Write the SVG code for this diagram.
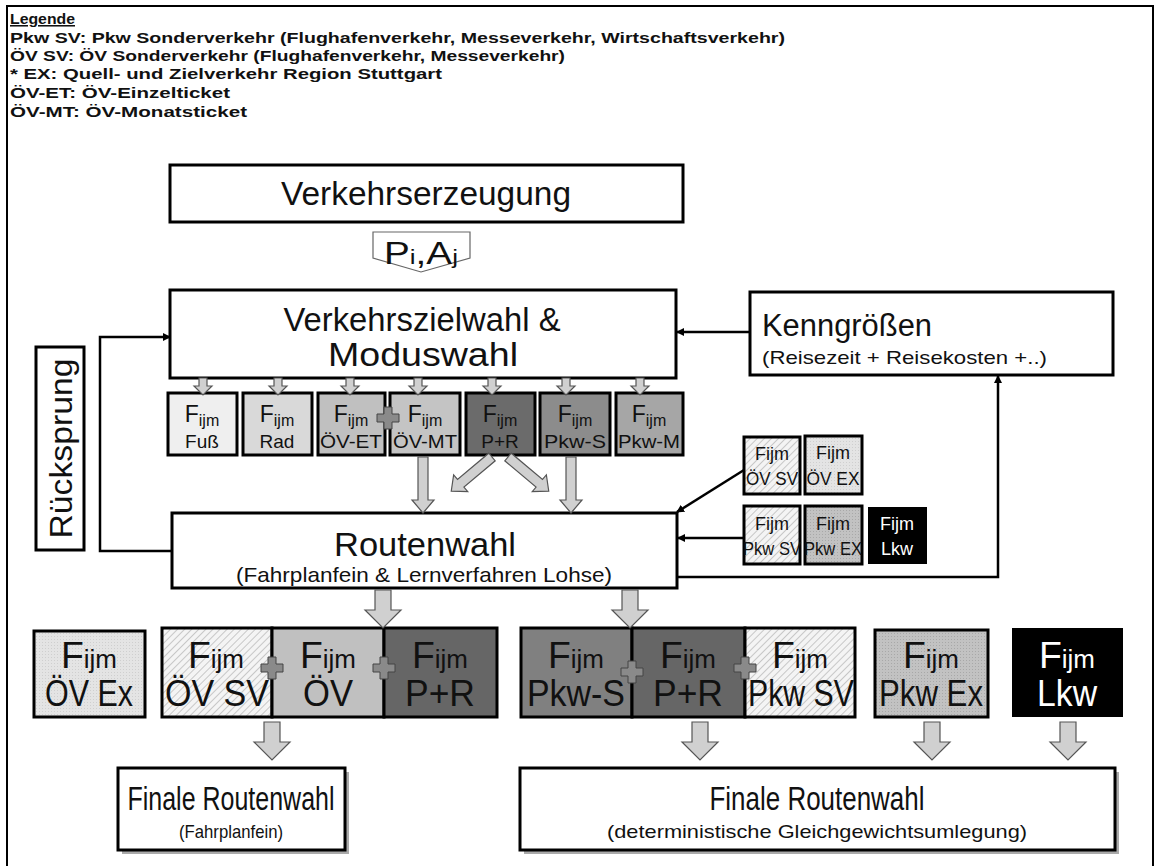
<svg xmlns="http://www.w3.org/2000/svg" width="1161" height="866" viewBox="0 0 1161 866">
<style>
.t{font-family:"Liberation Sans",Arial,sans-serif;fill:#111}
.w{fill:#fff}
.leg{font-family:"Liberation Sans",Arial,sans-serif;font-weight:bold;font-size:15.5px;fill:#111}
.box{fill:#fff;stroke:#000;stroke-width:3}
.sb{stroke:#000;stroke-width:3}
.ba{fill:#d0d0d0;stroke:#555;stroke-width:1.2}
.con{fill:none;stroke:#000;stroke-width:2.5}
.plus{fill:#8a8a8a;stroke:#444;stroke-width:1}
.mF{font-size:23px}
.mN{font-size:19px}
.rF{font-size:36px}
.rN{font-size:36px}
</style>
<defs>
<pattern id="hatch" width="5" height="5" patternUnits="userSpaceOnUse" patternTransform="rotate(45)">
<rect width="5" height="5" fill="#f4f4f4"/><line x1="0" y1="0" x2="0" y2="5" stroke="#9a9a9a" stroke-width="1"/>
</pattern>
<pattern id="dots1" width="3" height="3" patternUnits="userSpaceOnUse">
<rect width="3" height="3" fill="#e4e4e4"/><rect width="1" height="1" fill="#cfcfcf"/>
</pattern>
<pattern id="dots2" width="3" height="3" patternUnits="userSpaceOnUse">
<rect width="3" height="3" fill="#c2c2c2"/><rect width="1" height="1" fill="#a8a8a8"/>
</pattern>
<marker id="ah" markerWidth="8" markerHeight="8" refX="7" refY="4" orient="auto" markerUnits="userSpaceOnUse">
<path d="M0,0 L8,4 L0,8 Z" fill="#000"/>
</marker>
<path id="a16" d="M-4,0 h8 v8 h5 l-9,9 l-9,-9 h5 z"/>
<path id="a56" d="M-5,0 h10 v43 h6 l-11,13 l-11,-13 h6 z"/>
<path id="a38" d="M-8,0 h16 v20 h10 l-18,18 l-18,-18 h10 z"/>
<path id="plus" d="M-4,-11 h8 v7 h7 v8 h-7 v7 h-8 v-7 h-7 v-8 h7 z"/>
</defs>

<rect x="7" y="6" width="1146" height="866" fill="none" stroke="#000" stroke-width="2"/>

<g id="legend">
<text class="leg" x="10" y="24" textLength="65" lengthAdjust="spacingAndGlyphs" text-decoration="underline">Legende</text>
<text class="leg" x="10" y="43" textLength="775" lengthAdjust="spacingAndGlyphs">Pkw SV: Pkw Sonderverkehr (Flughafenverkehr, Messeverkehr, Wirtschaftsverkehr)</text>
<text class="leg" x="10" y="61" textLength="555" lengthAdjust="spacingAndGlyphs">ÖV  SV: ÖV  Sonderverkehr (Flughafenverkehr, Messeverkehr)</text>
<text class="leg" x="10" y="79" textLength="432" lengthAdjust="spacingAndGlyphs">* EX: Quell- und Zielverkehr Region Stuttgart</text>
<text class="leg" x="10" y="98" textLength="220" lengthAdjust="spacingAndGlyphs">ÖV-ET: ÖV-Einzelticket</text>
<text class="leg" x="10" y="117" textLength="237" lengthAdjust="spacingAndGlyphs">ÖV-MT: ÖV-Monatsticket</text>
</g>

<g id="verkehrserzeugung">
<rect class="box" x="170" y="165" width="513" height="57"/>
<text class="t" x="426" y="205" font-size="34" text-anchor="middle" textLength="290" lengthAdjust="spacingAndGlyphs">Verkehrserzeugung</text>
</g>

<g id="piaj">
<path d="M373,232 H470 V258 L421,272 L373,258 Z" fill="#fff" stroke="#666" stroke-width="1.2"/>
<text class="t" x="421" y="264" font-size="31" text-anchor="middle" textLength="74" lengthAdjust="spacingAndGlyphs">P<tspan font-size="21">i</tspan>,A<tspan font-size="21">j</tspan></text>
</g>

<g id="verkehrszielwahl">
<rect class="box" x="170" y="290" width="506" height="88"/>
<text class="t" x="422" y="331" font-size="33" text-anchor="middle" textLength="277" lengthAdjust="spacingAndGlyphs">Verkehrszielwahl &amp;</text>
<text class="t" x="423" y="366" font-size="33" text-anchor="middle" textLength="190" lengthAdjust="spacingAndGlyphs">Moduswahl</text>
</g>

<g id="kenngroessen">
<rect class="box" x="750" y="292" width="363" height="83"/>
<text class="t" x="762" y="336" font-size="31" textLength="170" lengthAdjust="spacingAndGlyphs">Kenngrößen</text>
<text class="t" x="762" y="364" font-size="19" textLength="285" lengthAdjust="spacingAndGlyphs">(Reisezeit + Reisekosten +..)</text>
</g>

<g id="ruecksprung">
<rect class="box" x="36" y="347" width="48" height="203"/>
<text class="t" transform="translate(72,448.5) rotate(-90)" font-size="32" text-anchor="middle" textLength="180" lengthAdjust="spacingAndGlyphs">Rücksprung</text>
</g>

<g id="mode-boxes">
<g id="m-fuss"><rect class="sb" x="168" y="393" width="69" height="62" fill="#efefef"/>
<text class="t mF" x="202" y="422" text-anchor="middle">F<tspan font-size="16" dy="4">ijm</tspan></text>
<text class="t mN" x="202" y="448" text-anchor="middle">Fuß</text></g>
<g id="m-rad"><rect class="sb" x="243" y="393" width="69" height="62" fill="#d9d9d9"/>
<text class="t mF" x="277" y="422" text-anchor="middle">F<tspan font-size="16" dy="4">ijm</tspan></text>
<text class="t mN" x="277" y="448" text-anchor="middle">Rad</text></g>
<g id="m-oevet"><rect class="sb" x="318" y="393" width="67" height="62" fill="#c0c0c0"/>
<text class="t mF" x="351" y="422" text-anchor="middle">F<tspan font-size="16" dy="4">ijm</tspan></text>
<text class="t mN" x="351" y="448" text-anchor="middle" textLength="62" lengthAdjust="spacingAndGlyphs">ÖV-ET</text></g>
<g id="m-oevmt"><rect class="sb" x="390" y="393" width="70" height="62" fill="#c4c4c4"/>
<text class="t mF" x="425" y="422" text-anchor="middle">F<tspan font-size="16" dy="4">ijm</tspan></text>
<text class="t mN" x="425" y="448" text-anchor="middle" textLength="64" lengthAdjust="spacingAndGlyphs">ÖV-MT</text></g>
<g id="m-pr"><rect class="sb" x="466" y="393" width="69" height="62" fill="#6b6b6b"/>
<text class="t mF" x="500" y="422" text-anchor="middle">F<tspan font-size="16" dy="4">ijm</tspan></text>
<text class="t mN" x="500" y="448" text-anchor="middle">P+R</text></g>
<g id="m-pkws"><rect class="sb" x="540" y="393" width="70" height="62" fill="#8c8c8c"/>
<text class="t mF" x="575" y="422" text-anchor="middle">F<tspan font-size="16" dy="4">ijm</tspan></text>
<text class="t mN" x="575" y="448" text-anchor="middle" textLength="62" lengthAdjust="spacingAndGlyphs">Pkw-S</text></g>
<g id="m-pkwm"><rect class="sb" x="616" y="393" width="67" height="62" fill="#a6a6a6"/>
<text class="t mF" x="649" y="422" text-anchor="middle">F<tspan font-size="16" dy="4">ijm</tspan></text>
<text class="t mN" x="649" y="448" text-anchor="middle" textLength="62" lengthAdjust="spacingAndGlyphs">Pkw-M</text></g>
<use href="#plus" class="plus" transform="translate(388,418)"/>
</g>

<g id="routenwahl">
<rect class="box" x="172" y="513" width="505" height="75"/>
<text class="t" x="425" y="556" font-size="34" text-anchor="middle" textLength="182" lengthAdjust="spacingAndGlyphs">Routenwahl</text>
<text class="t" x="424" y="582" font-size="21" text-anchor="middle" textLength="376" lengthAdjust="spacingAndGlyphs">(Fahrplanfein &amp; Lernverfahren Lohse)</text>
</g>

<g id="side-boxes">
<g id="s-oevsv"><rect class="sb" x="744" y="437" width="56" height="57" fill="url(#hatch)"/>
<text class="t" x="772" y="460" font-size="18" text-anchor="middle">Fijm</text>
<text class="t" x="772" y="485" font-size="18" text-anchor="middle" textLength="52" lengthAdjust="spacingAndGlyphs">ÖV SV</text></g>
<g id="s-oevex"><rect class="sb" x="805" y="436" width="57" height="58" fill="url(#dots1)"/>
<text class="t" x="833" y="459" font-size="18" text-anchor="middle">Fijm</text>
<text class="t" x="833" y="485" font-size="18" text-anchor="middle" textLength="53" lengthAdjust="spacingAndGlyphs">ÖV EX</text></g>
<g id="s-pkwsv"><rect class="sb" x="744" y="506" width="56" height="58" fill="url(#hatch)"/>
<text class="t" x="772" y="530" font-size="18" text-anchor="middle">Fijm</text>
<text class="t" x="772" y="555" font-size="18" text-anchor="middle" textLength="58" lengthAdjust="spacingAndGlyphs">Pkw SV</text></g>
<g id="s-pkwex"><rect class="sb" x="805" y="506" width="57" height="58" fill="url(#dots2)"/>
<text class="t" x="833" y="530" font-size="18" text-anchor="middle">Fijm</text>
<text class="t" x="833" y="555" font-size="18" text-anchor="middle" textLength="58" lengthAdjust="spacingAndGlyphs">Pkw EX</text></g>
<g id="s-lkw"><rect x="868" y="507" width="59" height="57" fill="#000"/>
<text class="t w" x="897" y="530" font-size="18" text-anchor="middle">Fijm</text>
<text class="t w" x="897" y="555" font-size="18" text-anchor="middle">Lkw</text></g>
</g>

<g id="result-boxes">
<g id="r-oevex"><rect class="sb" x="34" y="631" width="111" height="86" fill="url(#dots1)"/>
<text class="t rF" x="89" y="668" text-anchor="middle" textLength="56" lengthAdjust="spacingAndGlyphs">F<tspan font-size="25">ijm</tspan></text>
<text class="t rN" x="89" y="706" text-anchor="middle" textLength="88" lengthAdjust="spacingAndGlyphs">ÖV Ex</text></g>
<g id="r-oevsv"><rect class="sb" x="162" y="628" width="110" height="89" fill="url(#hatch)"/>
<text class="t rF" x="216" y="668" text-anchor="middle" textLength="56" lengthAdjust="spacingAndGlyphs">F<tspan font-size="25">ijm</tspan></text>
<text class="t rN" x="217" y="706" text-anchor="middle" textLength="104" lengthAdjust="spacingAndGlyphs">ÖV SV</text></g>
<g id="r-oev"><rect class="sb" x="272" y="628" width="112" height="89" fill="#c0c0c0"/>
<text class="t rF" x="328" y="668" text-anchor="middle" textLength="56" lengthAdjust="spacingAndGlyphs">F<tspan font-size="25">ijm</tspan></text>
<text class="t rN" x="328" y="706" text-anchor="middle" textLength="50" lengthAdjust="spacingAndGlyphs">ÖV</text></g>
<g id="r-pr1"><rect class="sb" x="384" y="628" width="113" height="89" fill="#666"/>
<text class="t rF" x="440" y="668" text-anchor="middle" textLength="56" lengthAdjust="spacingAndGlyphs">F<tspan font-size="25">ijm</tspan></text>
<text class="t rN" x="440" y="706" text-anchor="middle" textLength="70" lengthAdjust="spacingAndGlyphs">P+R</text></g>
<g id="r-pkws"><rect class="sb" x="521" y="628" width="111" height="89" fill="#808080"/>
<text class="t rF" x="576" y="668" text-anchor="middle" textLength="56" lengthAdjust="spacingAndGlyphs">F<tspan font-size="25">ijm</tspan></text>
<text class="t rN" x="576" y="706" text-anchor="middle" textLength="98" lengthAdjust="spacingAndGlyphs">Pkw-S</text></g>
<g id="r-pr2"><rect class="sb" x="632" y="628" width="113" height="89" fill="#666"/>
<text class="t rF" x="688" y="668" text-anchor="middle" textLength="56" lengthAdjust="spacingAndGlyphs">F<tspan font-size="25">ijm</tspan></text>
<text class="t rN" x="688" y="706" text-anchor="middle" textLength="70" lengthAdjust="spacingAndGlyphs">P+R</text></g>
<g id="r-pkwsv"><rect class="sb" x="745" y="628" width="110" height="89" fill="url(#hatch)"/>
<text class="t rF" x="800" y="668" text-anchor="middle" textLength="56" lengthAdjust="spacingAndGlyphs">F<tspan font-size="25">ijm</tspan></text>
<text class="t rN" x="801" y="706" text-anchor="middle" textLength="106" lengthAdjust="spacingAndGlyphs">Pkw SV</text></g>
<g id="r-pkwex"><rect class="sb" x="875" y="630" width="113" height="87" fill="url(#dots2)"/>
<text class="t rF" x="931" y="668" text-anchor="middle" textLength="56" lengthAdjust="spacingAndGlyphs">F<tspan font-size="25">ijm</tspan></text>
<text class="t rN" x="931" y="706" text-anchor="middle" textLength="104" lengthAdjust="spacingAndGlyphs">Pkw Ex</text></g>
<g id="r-lkw"><rect x="1012" y="628" width="111" height="89" fill="#000"/>
<text class="t rF w" x="1067" y="668" text-anchor="middle" textLength="56" lengthAdjust="spacingAndGlyphs">F<tspan font-size="25">ijm</tspan></text>
<text class="t rN w" x="1067" y="706" text-anchor="middle" textLength="60" lengthAdjust="spacingAndGlyphs">Lkw</text></g>
<use href="#plus" class="plus" transform="translate(272,668)"/>
<use href="#plus" class="plus" transform="translate(384,668)"/>
<use href="#plus" class="plus" transform="translate(632,672)"/>
<use href="#plus" class="plus" transform="translate(745,668)"/>
</g>

<g id="final-left">
<rect x="122" y="772" width="227" height="82" fill="#aaa"/>
<rect class="box" x="118" y="768" width="227" height="82"/>
<text class="t" x="231" y="810" font-size="33" text-anchor="middle" textLength="207" lengthAdjust="spacingAndGlyphs">Finale Routenwahl</text>
<text class="t" x="231" y="838" font-size="19" text-anchor="middle" textLength="104" lengthAdjust="spacingAndGlyphs">(Fahrplanfein)</text>
</g>

<g id="final-right">
<rect x="524" y="772" width="595" height="82" fill="#aaa"/>
<rect class="box" x="520" y="768" width="595" height="82"/>
<text class="t" x="817" y="810" font-size="33" text-anchor="middle" textLength="215" lengthAdjust="spacingAndGlyphs">Finale Routenwahl</text>
<text class="t" x="817" y="838" font-size="19" text-anchor="middle" textLength="420" lengthAdjust="spacingAndGlyphs">(deterministische Gleichgewichtsumlegung)</text>
</g>

<g id="connectors">
<path class="con" d="M750,332 H677" marker-end="url(#ah)"/>
<path class="con" d="M172,551 H100 V337 H170" marker-end="url(#ah)"/>
<path class="con" d="M744,470 L677,512" marker-end="url(#ah)"/>
<path class="con" d="M744,538 H678" marker-end="url(#ah)"/>
<path class="con" d="M677,577 H998 V376" marker-end="url(#ah)"/>
<g class="ba">
<use href="#a16" transform="translate(203,378)"/>
<use href="#a16" transform="translate(278,378)"/>
<use href="#a16" transform="translate(350,378)"/>
<use href="#a16" transform="translate(418,378)"/>
<use href="#a16" transform="translate(492,378)"/>
<use href="#a16" transform="translate(566,378)"/>
<use href="#a16" transform="translate(640,378)"/>
<use href="#a56" transform="translate(423,457)"/>
<use href="#a56" transform="translate(571,457)"/>
<use href="#a56" transform="translate(492,457) rotate(50) scale(1,0.95)"/>
<use href="#a56" transform="translate(508,457) rotate(-50) scale(1,0.95)"/>
<use href="#a38" transform="translate(383,590)"/>
<use href="#a38" transform="translate(630,590)"/>
<use href="#a38" transform="translate(272,722)"/>
<use href="#a38" transform="translate(700,722)"/>
<use href="#a38" transform="translate(932,722)"/>
<use href="#a38" transform="translate(1068,722)"/>
</g>
</g>
</svg>
